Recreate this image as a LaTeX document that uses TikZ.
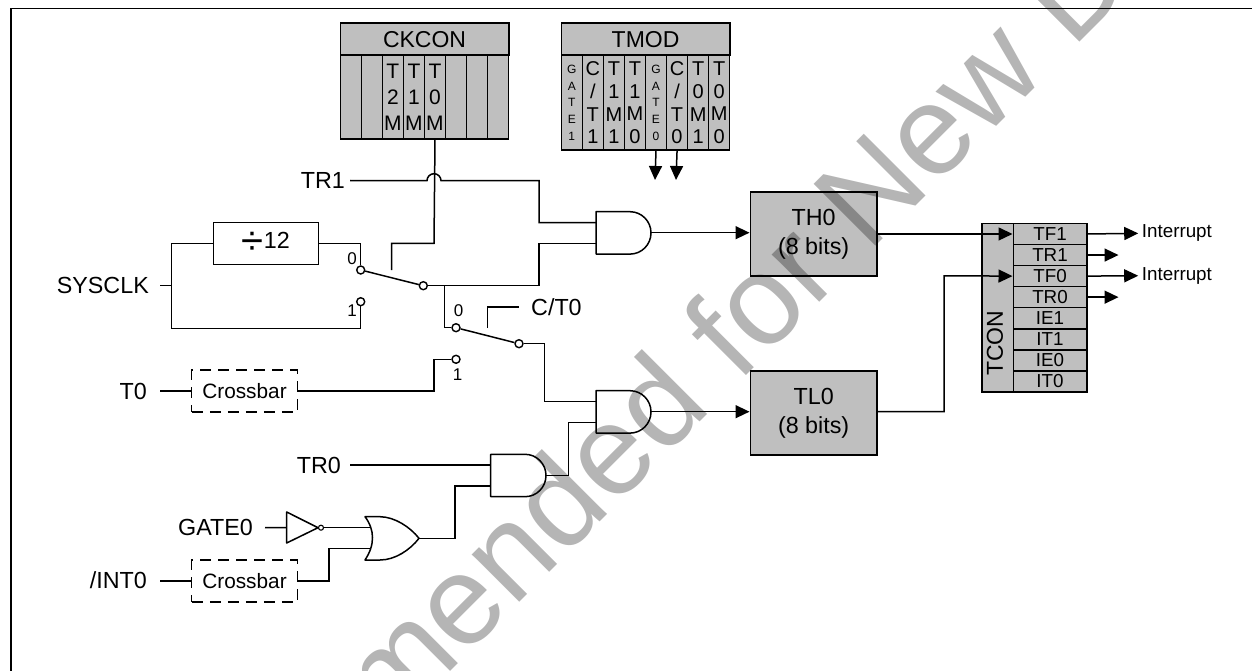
\documentclass[tikz,border=0pt]{standalone}
\usepackage{fontspec}
\setmainfont{Liberation Sans}
\usepackage{tikz}
\usetikzlibrary{positioning, arrows.meta, shapes.geometric}
\newcommand{\fsize}[1]{\fontsize{#1}{#1}\selectfont}
\begin{document}
\begin{tikzpicture}[
        x=1pt, y=-1pt,
        wire/.style={line width=1.5pt},
        arrow/.style={wire, -{Triangle[length=14pt, width=13pt]}},
        label/.style={inner sep=0pt, font=\fsize{23.3}},
        regbox/.style={draw, line width=1.6pt, fill=black!25, minimum width=126.7pt, minimum height=84pt, align=center, inner sep=0pt, font=\fontsize{23.3}{29}\selectfont},
        cell/.style={draw, line width=1.5pt, fill=black!25, minimum width=21pt, inner sep=0pt, align=center},
        head/.style={draw, line width=1.6pt, fill=black!25, minimum height=32pt, inner sep=0pt, font=\fsize{23}},
        xbar/.style={draw, dashed, dash pattern=on 11pt off 7pt, line width=1.4pt, minimum width=105.5pt, minimum height=42pt, inner sep=0pt, font=\fsize{20.8}},
        contact/.style={circle, draw, line width=1.4pt, fill=white, minimum size=8pt, inner sep=0pt},
        gate/.style={wire, fill=white, line join=round}
    ]
        \useasboundingbox (0,0) rectangle (1252,671);

        % Frame
        \draw[line width=1.7pt] (11,671) -- (11,8.5) -- (1252,8.5);

        % Registers
        \node[head, minimum width=168.5pt, anchor=north west] (ckcon) at (339.5,22.5) {CKCON};
        \foreach \i/\txt in {0/{}, 1/{}, 2/{T\\2\\M}, 3/{T\\1\\M}, 4/{T\\0\\M}, 5/{}, 6/{}, 7/{}}
            \node[cell, minimum height=84pt, anchor=north west, font=\fontsize{21}{26}\selectfont] (ck\i) at ({339.5+21.06*\i},54.5) {\txt};
        \node[head, minimum width=168.5pt, anchor=north west] (tmod) at (560.5,22.5) {TMOD};
        \foreach \i/\txt in {1/{C\\/\\T\\1}, 2/{T\\1\\M\\1}, 3/{T\\1\\M\\0}, 5/{C\\/\\T\\0}, 6/{T\\0\\M\\1}, 7/{T\\0\\M\\0}}
            \node[cell, minimum height=95pt, anchor=north west, font=\fontsize{20}{22.8}\selectfont] (tm\i) at ({560.5+21.06*\i},54.5) {\txt};
        \foreach \i/\txt in {0/{G\\A\\T\\E\\1}, 4/{G\\A\\T\\E\\0}}
            \node[cell, minimum height=95pt, anchor=north west, font=\fontsize{12}{16.6}\selectfont] (tm\i) at ({560.5+21.06*\i},54.5) {\txt};
        \coordinate (tmoda) at (655,180);
        \coordinate (tmodb) at (676,180);

        \node[regbox, anchor=north west] (th0) at (749.5,191) {TH0\\(8 bits)};
        \node[regbox, anchor=north west] (tl0) at (749.5,370) {TL0\\(8 bits)};

        \node[draw, line width=1.6pt, fill=black!25, minimum width=31.5pt, minimum height=168.5pt, inner sep=0pt, anchor=north west] (tcon) at (981,222.7) {};
        \node[rotate=90, font=\fsize{23}, anchor=west, inner sep=0pt] (tconl) at (995,376) {TCON};
        \foreach \i/\txt in {0/TF1, 1/TR1, 2/TF0, 3/TR0, 4/IE1, 5/IT1, 6/IE0, 7/IT0}
            \node[cell, minimum width=73.5pt, minimum height=21.06pt, anchor=north west, font=\fsize{18.8}] (tc\i) at ({1012.5},{222.7+21.06*\i}) {\txt};

        % Blocks
        \node[draw, line width=1.4pt, minimum width=105pt, minimum height=42pt, inner sep=0pt] (div) at (265.8,243.7) {\raisebox{-6pt}{\fsize{40}÷}\fsize{23.3}12\hspace{9pt}};
        \node[xbar] (xbara) at (244.5,391) {Crossbar};
        \node[xbar] (xbarb) at (244.5,581) {Crossbar};

        % Gates
        \draw[gate] (596,211.7) -- (630,211.7) arc[start angle=90, end angle=-90, x radius=21pt, y radius=21.2pt] -- (596,254) -- cycle;
        \draw[gate] (596,390.7) -- (630,390.7) arc[start angle=90, end angle=-90, x radius=21pt, y radius=21.2pt] -- (596,433) -- cycle;
        \draw[gate] (490.7,454.3) -- (525,454.3) arc[start angle=90, end angle=-90, x radius=21pt, y radius=21.2pt] -- (490.7,496.7) -- cycle;
        \draw[gate] (365,516.7) -- (380,516.7) .. controls (395,517) and (410,527) .. (419,538.3) .. controls (410,550) and (395,560) .. (380,560) -- (365,560) .. controls (375,545) and (375,530) .. (365,516.7) -- cycle;
        \draw[gate] (286.7,512) -- (318,527.7) -- (286.7,543) -- cycle;
        \node[circle, draw, line width=1.1pt, fill=white, minimum size=5pt, inner sep=0pt] (inv) at (321,527.7) {};
        \coordinate (anda) at (651,232.7);
        \coordinate (andb) at (651,411.7);
        \coordinate (andc) at (546,475.5);
        \coordinate (orout) at (419,538.3);

        % Contacts
        \node[contact] (sa0) at (360.7,270) {};
        \node[contact] (sa1) at (360.7,301.7) {};
        \node[contact] (sap) at (423.3,285.7) {};
        \node[contact] (sb0) at (456,327.7) {};
        \node[contact] (sb1) at (456,359.3) {};
        \node[contact] (sbp) at (519,343.7) {};
        \node[font=\fsize{17}, inner sep=0pt] (sal0) at (352,259) {0};
        \node[font=\fsize{17}, inner sep=0pt] (sal1) at (352,310.7) {1};
        \node[font=\fsize{17}, inner sep=0pt] (sbl0) at (458.7,310.7) {0};
        \node[font=\fsize{17}, inner sep=0pt] (sbl1) at (457.5,375) {1};

        % Labels
        \node[label, anchor=east] (tr1) at (345,180.5) {TR1};
        \node[label, anchor=east] (sysclk) at (149,285.5) {SYSCLK};
        \node[label, anchor=east] (t0) at (147,391) {T0};
        \node[label, anchor=east] (tr0) at (341,465) {TR0};
        \node[label, anchor=east] (gate0) at (253,527.5) {GATE0};
        \node[label, anchor=east] (int0) at (147,580) {/INT0};
        \node[label, anchor=west] (ct0) at (531,306.7) {C/T0};
        \node[inner sep=0pt, font=\fsize{18.8}, anchor=west] (inta) at (1141.7,233.3) {Interrupt};
        \node[inner sep=0pt, font=\fsize{18.8}, anchor=west] (intb) at (1141.7,275.7) {Interrupt};

        % Arrows
        \draw[wire] (ck4.south) -- (434,243.3) -- (391.7,243.3) -- (391.7,270);
        \draw[wire] (tr1.east) ++(5,0) -- (427,180.7) arc[start angle=180, end angle=0, radius=7pt] -- (539,180.7) -- (539,222.7) -- (596,222.7);
        \draw[wire] (sap) -- (539,285.7) -- (539,243.3) -- (596,243.3);
        \draw[wire] (sysclk.east) ++(11,0) -- (171.3,285.5);
        \draw[wire] (div.west) -- (171.3,243.7) -- (171.3,328.3) -- (360.7,328.3) -- (sa1);
        \draw[wire] (div.east) -- (360.7,243.7) -- (sa0);
        \draw[wire] (sa0) -- (sap);
        \draw[wire] (444.3,285.7) -- (444.3,327.7) -- (sb0);
        \draw[wire] (sb0) -- (sbp);
        \draw[wire] (sbp) -- (544.3,343.7) -- (544.3,401.3) -- (596,401.3);
        \draw[wire] (xbara.east) -- (434,391) -- (434,359.3) -- (sb1);
        \draw[wire] (t0.east) ++(13,0) -- (xbara.west);
        \draw[wire] (int0.east |- xbarb.west) ++(13,0) -- (xbarb.west);
        \draw[wire] (487.7,328) -- (487.7,307) -- (518.7,307);
        \draw[wire] (tr0.east) ++(9,0) -- (490.7,465);
        \draw[wire] (gate0.east) ++(12,0) -- (286.7,527.7);
        \draw[wire] (inv) -- (370.7,527.7);
        \draw[wire] (xbarb.east) -- (329,581) -- (329,548.7) -- (370.7,548.7);
        \draw[wire] (orout) -- (455,538.3) -- (455,486) -- (490.7,486);
        \draw[wire] (andc) -- (568.3,475.5) -- (568.3,422.7) -- (596,422.7);
        \draw[arrow] (anda) -- (th0.west |- anda);
        \draw[arrow] (andb) -- (tl0.west |- andb);
        \draw[arrow] (th0.east |- tc0.west) -- (tc0.west);
        \draw[arrow] (tl0.east |- andb) -- (944,411.7) -- (944,275.8) -- (tc2.west);
        \draw[arrow, shorten >=3.5pt] (tc0.east) -- (inta.west);
        \draw[arrow, shorten >=3.5pt] (tc2.east) -- (intb.west);
        \draw[arrow] (tc1.east) -- ++(31,0);
        \draw[arrow] (tc3.east) -- ++(31,0);
        \draw[arrow] (tm4.south) -- (tmoda);
        \draw[arrow] (tm5.south) -- (tmodb);

        % Watermark
        \begin{scope}[blend mode=multiply]
            \clip (0,0) rectangle (1252,671);
            \node[rotate=45, anchor=base west, inner sep=0pt, text=black!29, font=\fsize{127}] (mark) at (389,733) {mended for New D};
        \end{scope}
    \end{tikzpicture}
\end{document}
